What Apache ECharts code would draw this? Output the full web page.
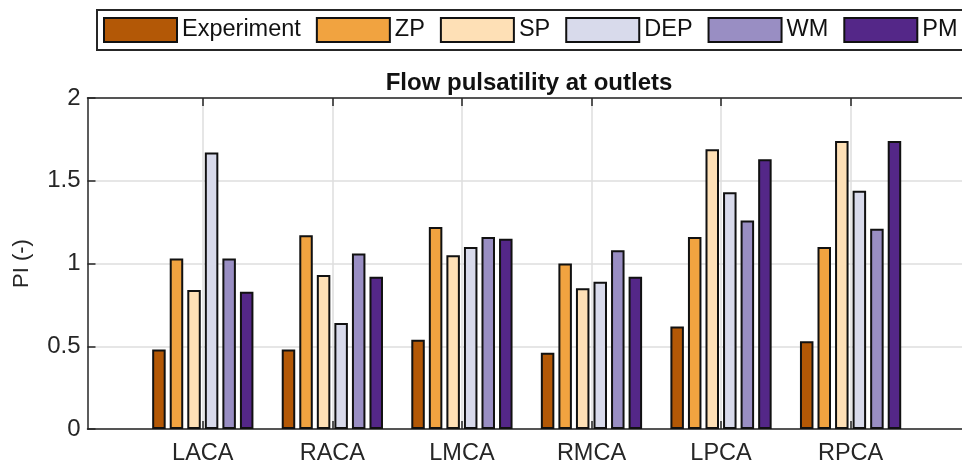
<!DOCTYPE html>
<html>
	<head>
		<meta charset="utf-8" />
		<title>Flow pulsatility at outlets</title>
		<style>
			html, body { margin: 0; padding: 0; background: #fff; }
			#chart { width: 962px; height: 466px; }
		</style>
	</head>
	<body>
		<div id="chart"></div>
		<script src="https://cdn.jsdelivr.net/npm/echarts@6/dist/echarts.min.js"></script>
		<script>
			// outlets (x positions 1..6)
			var outlets = ['LACA', 'RACA', 'LMCA', 'RMCA', 'LPCA', 'RPCA'];
			var seriesNames = ['Experiment', 'ZP', 'SP', 'DEP', 'WM', 'PM'];
			var seriesColors = ['#b35806', '#f1a340', '#fee0b6', '#d8daeb', '#998ec3', '#542788'];
			// PI values, one array per model, in outlet order
			var experiment = [0.48, 0.48, 0.54, 0.46, 0.62, 0.53];
			var zp = [1.03, 1.17, 1.22, 1.00, 1.16, 1.10];
			var sp = [0.84, 0.93, 1.05, 0.85, 1.69, 1.74];
			var dep = [1.67, 0.64, 1.10, 0.89, 1.43, 1.44];
			var wm = [1.03, 1.06, 1.16, 1.08, 1.26, 1.21];
			var pm = [0.83, 0.92, 1.15, 0.92, 1.63, 1.74];
			var yTicks = [0, 0.5, 1, 1.5, 2];

			var allValues = [experiment, zp, sp, dep, wm, pm];
			var font = 'Liberation Sans, Arial, Helvetica, sans-serif';
			var dark = '#262626';
			var gridColor = '#dedede';
			var catPos = outlets.map(function (n, i) { return i + 1; });

			var chart = echarts.init(document.getElementById('chart'));

			var series = seriesNames.map(function (name, k) {
				return {
					name: name,
					type: 'bar',
					barWidth: 13.5,
					barGap: '30%',
					data: allValues[k].map(function (v, i) { return [i + 1, v]; }),
					itemStyle: {
						color: seriesColors[k],
						borderColor: '#111',
						borderWidth: 2
					},
					emphasis: { disabled: true }
				};
			});

			var option = {
				backgroundColor: '#fff',
				animation: false,
				textStyle: { fontFamily: font },
				title: {
					text: 'Flow pulsatility at outlets',
					left: 524,
					textAlign: 'center',
					top: 66,
					textStyle: { fontSize: 24, fontWeight: 'bold', color: '#111', fontFamily: font }
				},
				legend: {
					data: seriesNames,
					left: 97,
					top: 10,
					width: 900,
					padding: [7, 20, 7, 6],
					itemWidth: 73,
					itemHeight: 24,
					itemGap: 15,
					borderColor: dark,
					borderWidth: 2,
					icon: 'rect',
					textStyle: { fontSize: 23.5, color: '#111', fontFamily: font }
				},
				grid: {
					left: 87.5,
					right: -8.5,
					top: 98,
					bottom: 37,
					containLabel: false
				},
				xAxis: [{
					type: 'value',
					min: 0.11,
					max: 6.86,
					position: 'bottom',
					axisLine: { show: true, lineStyle: { color: dark, width: 1.5 } },
					axisTick: { show: true, inside: true, length: 8, customValues: catPos, lineStyle: { color: dark, width: 1.5 } },
					axisLabel: {
						customValues: catPos,
						margin: 13,
						fontSize: 23.5,
						color: dark,
						formatter: function (v) { return outlets[Math.round(v) - 1] || ''; }
					},
					splitLine: { show: true, customValues: catPos, lineStyle: { color: gridColor, width: 1.5 } }
				}, {
					type: 'value',
					min: 0.11,
					max: 6.86,
					position: 'top',
					axisLine: { show: true, lineStyle: { color: dark, width: 1.5 } },
					axisTick: { show: true, inside: true, length: 8, customValues: catPos, lineStyle: { color: dark, width: 1.5 } },
					axisLabel: { show: false },
					splitLine: { show: false }
				}],
				yAxis: {
					type: 'value',
					min: 0,
					max: 2,
					interval: 0.5,
					name: 'PI (-)',
					nameLocation: 'middle',
					nameGap: 55,
					nameTextStyle: { fontSize: 22, color: dark, fontFamily: font },
					axisLine: { show: true, lineStyle: { color: dark, width: 1.5 } },
					axisTick: { show: true, inside: true, length: 8, lineStyle: { color: dark, width: 1.5 } },
					axisLabel: {
						fontSize: 24,
						color: dark,
						margin: 7,
						formatter: function (v) { return yTicks.indexOf(v) >= 0 ? String(v) : ''; }
					},
					splitLine: { show: true, lineStyle: { color: gridColor, width: 1.5 } }
				},
				series: series
			};
			chart.setOption(option);
		</script>
	</body>
</html>
